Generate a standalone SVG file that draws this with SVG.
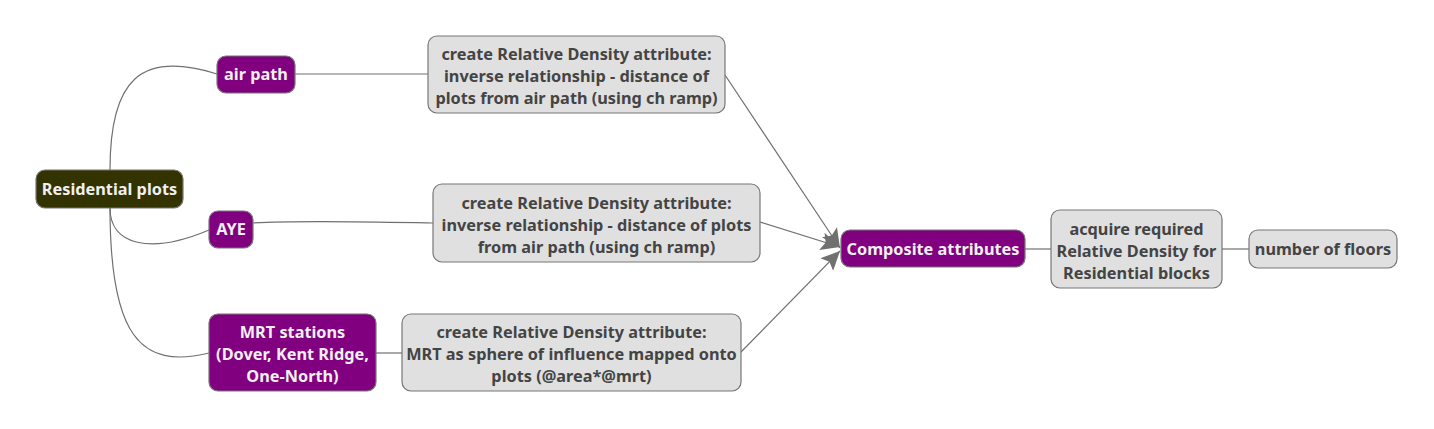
<svg xmlns="http://www.w3.org/2000/svg" width="1434" height="429" viewBox="0 0 1434 429">
<style>
.n rect{stroke:#777;stroke-width:1.2}
.root rect{fill:#333300}
.p rect{fill:#800080}
.g rect{fill:#e0e0e0}
text{font-family:"Noto Sans","Open Sans",sans-serif;font-weight:bold;font-size:16.3px;text-anchor:middle}
.root text,.p text{fill:#f0f0f0}
.g text{fill:#444444}
.c path{fill:none;stroke:#707070;stroke-width:1.2}
</style>
<defs>
<marker id="ah" markerWidth="22" markerHeight="18" refX="19" refY="9" orient="auto" markerUnits="userSpaceOnUse">
<path d="M0,0 L19,9 L0,18 L4,9 Z" fill="#707070"/>
</marker>
</defs>
<g class="c">
<path d="M110,170 C110,80 140,50 217,74"/>
<path d="M110,208 C110,245 150,255 209,230"/>
<path d="M110,208 C110,335 140,370 209,353"/>
<path d="M295,74 L428,74"/>
<path d="M253,223 C300,220 380,222 433,223"/>
<path d="M376,353 L402,353"/>
<path d="M725,75 L840,248" marker-end="url(#ah)"/>
<path d="M760,222 L840,247" marker-end="url(#ah)"/>
<path d="M741,352 L840,251" marker-end="url(#ah)"/>
<path d="M1025,249 L1051,249"/>
<path d="M1222,249 L1249,249"/>
</g>
<g id="residential" class="n root"><rect x="36" y="170" width="147" height="38" rx="9"/><text x="109.5" y="194.5">Residential plots</text></g>
<g id="airpath" class="n p"><rect x="217" y="56" width="78" height="37" rx="9"/><text x="256" y="79.5">air path</text></g>
<g id="aye" class="n p"><rect x="209" y="211" width="44" height="37" rx="9"/><text x="231" y="234.5">AYE</text></g>
<g id="mrt" class="n p"><rect x="209" y="314" width="167" height="77" rx="9"/><text x="292.5" y="337.5">MRT stations</text><text x="292.5" y="359.5">(Dover, Kent Ridge,</text><text x="292.5" y="381.5">One-North)</text></g>
<g id="box1" class="n g"><rect x="428" y="36" width="297" height="77" rx="9"/><text x="576.5" y="59.5">create Relative Density attribute:</text><text x="576.5" y="81.5">inverse relationship - distance of</text><text x="576.5" y="103.5">plots from air path (using ch ramp)</text></g>
<g id="box2" class="n g"><rect x="433" y="184" width="327" height="78" rx="9"/><text x="596.5" y="208.5">create Relative Density attribute:</text><text x="596.5" y="230.5">inverse relationship - distance of plots</text><text x="596.5" y="252.5">from air path (using ch ramp)</text></g>
<g id="box3" class="n g"><rect x="402" y="314" width="339" height="77" rx="9"/><text x="571.5" y="337.5">create Relative Density attribute:</text><text x="571.5" y="359.5">MRT as sphere of influence mapped onto</text><text x="571.5" y="381.5">plots (@area*@mrt)</text></g>
<g id="composite" class="n p"><rect x="841" y="230" width="184" height="37" rx="9"/><text x="933" y="254.5">Composite attributes</text></g>
<g id="acquire" class="n g"><rect x="1051" y="210" width="171" height="78" rx="9"/><text x="1136.5" y="234.5">acquire required</text><text x="1136.5" y="256.5">Relative Density for</text><text x="1136.5" y="278.5">Residential blocks</text></g>
<g id="floors" class="n g"><rect x="1249" y="230" width="148" height="38" rx="9"/><text x="1323" y="254.5">number of floors</text></g>
</svg>
